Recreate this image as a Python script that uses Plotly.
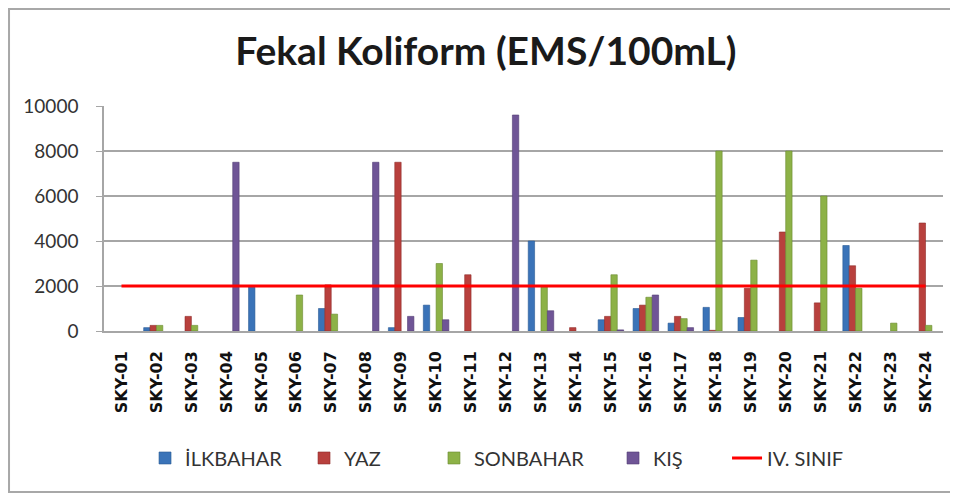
import plotly.graph_objects as go

categories = [f"SKY-{i:02d}" for i in range(1, 25)]

ilkbahar = [0, 150, 0, 0, 1950, 0, 1000, 0, 150, 1150, 0, 0,
            4000, 0, 500, 1000, 350, 1050, 600, 0, 0, 3800, 0, 0]
yaz = [0, 250, 650, 0, 0, 0, 2050, 0, 7500, 0, 2500, 0,
       0, 150, 650, 1150, 650, 30, 1900, 4400, 1250, 2900, 0, 4800]
sonbahar = [0, 250, 250, 0, 0, 1600, 750, 0, 0, 3000, 0, 0,
            1950, 0, 2500, 1500, 550, 8000, 3150, 8000, 6000, 1900, 350, 250]
kis = [0, 0, 0, 7500, 0, 0, 0, 7500, 650, 500, 0, 9600,
       900, 0, 50, 1600, 150, 0, 0, 0, 0, 0, 0, 0]
limit = [2000] * 24

y_ticks = [0, 2000, 4000, 6000, 8000, 10000]
y_tick_labels = ["0", "2000", "4000", "6000", "8000", "10000"]

series = [
    ("İLKBAHAR", ilkbahar, "#3a73b8", "#2a5a94"),
    ("YAZ", yaz, "#b8403d", "#8e2c2a"),
    ("SONBAHAR", sonbahar, "#8db247", "#6a8a30"),
    ("KIŞ", kis, "#6f5596", "#523d74"),
]
legend_ids = ["legend", "legend2", "legend3", "legend4", "legend5"]
legend_x = [0.0489, 0.2384, 0.3933, 0.6067, 0.7426]

fig = go.Figure()
for i, (name, vals, col, edge) in enumerate(series):
    shown = [v if v else None for v in vals]
    fig.add_trace(go.Bar(x=categories, y=shown, name=name, legend=legend_ids[i],
                         marker=dict(color=col, line=dict(color=edge, width=0.6))))
fig.add_trace(go.Scatter(x=categories, y=limit, name="IV. SINIF", mode="lines",
                         legend=legend_ids[4],
                         line=dict(color="#ff0000", width=3)))

legend_style = dict(orientation="h", xanchor="left", y=-0.5644, yanchor="middle",
                    font=dict(family="Lato", size=20, color="#333333"),
                    bgcolor="rgba(0,0,0,0)")
legends = {lid: dict(x=lx, **legend_style) for lid, lx in zip(legend_ids, legend_x)}

fig.update_layout(
    width=950, height=487,
    margin=dict(l=96, r=15, t=98, b=164),
    paper_bgcolor="white", plot_bgcolor="white",
    barmode="group", bargap=0.27, bargroupgap=0,
    title=dict(text="<b>Fekal Koliform (EMS/100mL)</b>", x=0.503, xanchor="center",
               y=0.91, yanchor="middle",
               font=dict(family="Lato", size=39, color="#1a1a1a")),
    showlegend=True,
    shapes=[dict(type="rect", xref="paper", yref="paper",
                 x0=-0.1132, x1=1.03, y0=-0.7156, y1=1.431,
                 line=dict(color="#a8a8a8", width=2), fillcolor="rgba(0,0,0,0)",
                 layer="below")],
    **legends,
)
fig.update_yaxes(range=[0, 10000], tickvals=y_ticks, ticktext=y_tick_labels,
                 automargin=False,
                 showgrid=True, gridcolor="#a6a6a6", gridwidth=1.5,
                 zeroline=False, showline=True, linecolor="#a6a6a6", linewidth=1.5,
                 ticks="outside", ticklen=6, tickcolor="#a6a6a6",
                 ticklabelstandoff=14,
                 tickfont=dict(family="Lato", size=19, color="#333333"))
fig.update_xaxes(showline=True, linecolor="#a6a6a6", linewidth=1.5,
                 automargin=False,
                 tickangle=-90, ticklabelstandoff=12,
                 tickfont=dict(family="DejaVu Sans", size=16, color="#111111",
                               weight="bold"))

fig.write_html("out.html")
